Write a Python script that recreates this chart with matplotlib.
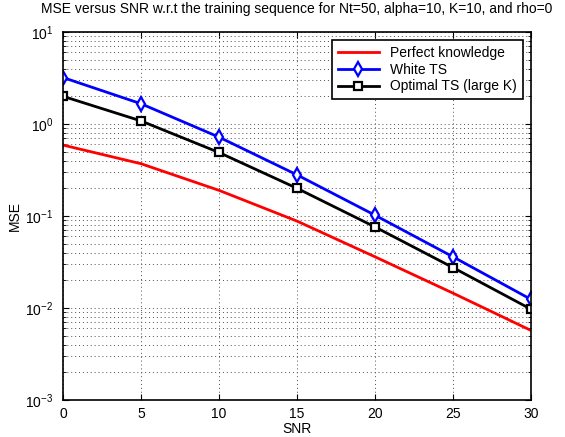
import numpy as np
import matplotlib
matplotlib.use('Agg')
import matplotlib.pyplot as plt
from matplotlib.ticker import LogLocator, NullFormatter

plt.rcParams['font.family'] = ['Liberation Sans', 'DejaVu Sans']

# data
snr = [0, 5, 10, 15, 20, 25, 30]
mse_perfect = [0.59, 0.37, 0.19, 0.088, 0.036, 0.0145, 0.0057]
mse_white = [3.2, 1.66, 0.72, 0.28, 0.102, 0.036, 0.0124]
mse_optimal = [2.0, 1.08, 0.49, 0.20, 0.076, 0.0275, 0.0097]

fig = plt.figure(figsize=(5.65, 4.37), dpi=100)
ax = fig.add_axes([0.1115, 0.0847, 0.8283, 0.8421])

ax.semilogy(snr, mse_perfect, color='red', lw=2, label='Perfect knowledge')
ax.semilogy(snr, mse_white, color='blue', lw=2, marker='d', markersize=7,
            markerfacecolor='white', markeredgewidth=1.6, label='White TS')
ax.semilogy(snr, mse_optimal, color='black', lw=2, marker='s', markersize=5.5,
            markerfacecolor='white', markeredgewidth=1.6, label='Optimal TS (large K)')

ax.set_xlim(0, 30)
ax.set_ylim(1e-3, 1e1)
ax.set_xticks([0, 5, 10, 15, 20, 25, 30])
ax.yaxis.set_major_locator(LogLocator(base=10, numticks=10))
ax.yaxis.set_minor_locator(LogLocator(base=10, subs=np.arange(2, 10), numticks=10))
ax.yaxis.set_minor_formatter(NullFormatter())

grid_style = dict(linestyle=(0, (1, 3)), color='0.3', lw=0.7)
ax.grid(True, which='major', **grid_style)
ax.grid(True, which='minor', axis='y', **grid_style)
ax.tick_params(which='both', direction='in', top=True, right=True, labelsize=10)
ax.tick_params(which='major', length=4)
ax.tick_params(which='minor', length=2)
ax.tick_params(axis='y', which='major', pad=7)
ax.tick_params(axis='x', which='major', pad=5)
for s in ax.spines.values():
    s.set_linewidth(1.2)

ax.set_xlabel('SNR', fontsize=10, labelpad=1)
ax.set_ylabel('MSE', fontsize=10, labelpad=2)
ax.set_title('MSE versus SNR w.r.t the training sequence for Nt=50, alpha=10, K=10, and rho=0',
             fontsize=10, pad=14)

leg = ax.legend(loc='upper right', fontsize=10, fancybox=False, framealpha=1,
                edgecolor='black', borderaxespad=0.6, handlelength=3,
                borderpad=0.4, labelspacing=0.2)
leg.get_frame().set_linewidth(1.2)

fig.savefig('out.png', dpi=100)
